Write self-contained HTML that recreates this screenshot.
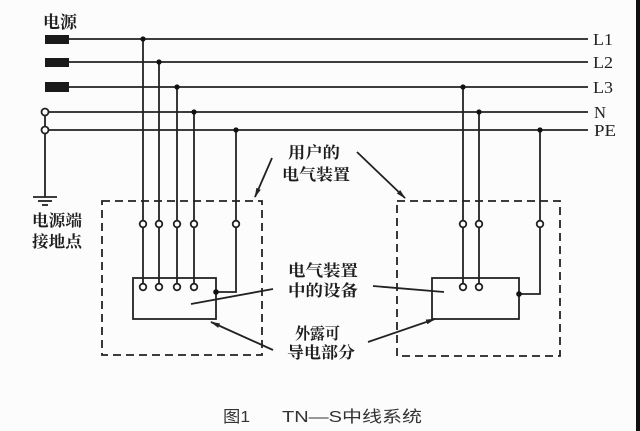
<!DOCTYPE html>
<html><head><meta charset="utf-8"><style>
html,body{margin:0;padding:0;background:#fcfcfc;}
svg{display:block;}
.cn{font-family:"Liberation Serif","Noto Serif CJK SC","Noto Sans CJK SC",serif;fill:#1e1e1e;font-weight:bold;}
.lb{font-family:"Liberation Serif",serif;fill:#222;}
.cap{font-family:"Liberation Sans","Noto Sans CJK SC",sans-serif;fill:#333;}
</style></head><body>
<svg width="640" height="431" viewBox="0 0 640 431" xmlns="http://www.w3.org/2000/svg">
<defs>
<marker id="ah" markerWidth="10" markerHeight="6" refX="9" refY="3" orient="auto" markerUnits="userSpaceOnUse">
<path d="M0,0.6 L10,3 L0,5.4 Z" fill="#222"/>
</marker>
</defs>
<rect x="0" y="0" width="640" height="431" fill="#fcfcfc"/>
<rect x="636" y="0" width="4" height="431" fill="#111"/>

<g stroke="#222" stroke-width="1.8" fill="none">
<line x1="69" y1="39" x2="588" y2="39"/>
<line x1="69" y1="62" x2="588" y2="62"/>
<line x1="69" y1="87" x2="588" y2="87"/>
<line x1="48" y1="112" x2="588" y2="112"/>
<line x1="48" y1="130" x2="588" y2="130"/>
<line x1="45" y1="115" x2="45" y2="127"/>
<line x1="45" y1="133" x2="45" y2="197"/>
<line x1="33" y1="197" x2="57" y2="197"/>
<line x1="38" y1="201" x2="52" y2="201"/>
<line x1="42" y1="205" x2="48" y2="205"/>
<line x1="143" y1="39" x2="143" y2="284"/>
<line x1="159" y1="62" x2="159" y2="284"/>
<line x1="177" y1="87" x2="177" y2="284"/>
<line x1="194" y1="112" x2="194" y2="284"/>
<polyline points="236,130 236,292 216,292"/>
<line x1="463" y1="87" x2="463" y2="284"/>
<line x1="479" y1="112" x2="479" y2="284"/>
<polyline points="540,130 540,294 519,294"/>
<rect x="133" y="278" width="83" height="41"/>
<rect x="432" y="278" width="87" height="41"/>
<rect x="102" y="201" width="160" height="154" stroke-dasharray="8,5"/>
<rect x="397" y="201" width="163" height="155" stroke-dasharray="8,5"/>
<line x1="273" y1="289" x2="191" y2="304"/>
<line x1="373" y1="286" x2="444" y2="292"/>
<line x1="272" y1="158" x2="255" y2="197" marker-end="url(#ah)"/>
<line x1="357" y1="152" x2="405" y2="198" marker-end="url(#ah)"/>
<line x1="273" y1="350" x2="211" y2="322" marker-end="url(#ah)"/>
<line x1="368" y1="342" x2="435" y2="319" marker-end="url(#ah)"/>
</g>

<g fill="#1a1a1a">
<rect x="45" y="35" width="24" height="9"/>
<rect x="45" y="58" width="24" height="9"/>
<rect x="45" y="82" width="24" height="10"/>
</g>

<g fill="#111">
<circle cx="143" cy="39" r="2.6"/>
<circle cx="159" cy="62" r="2.6"/>
<circle cx="177" cy="87" r="2.6"/>
<circle cx="194" cy="112" r="2.6"/>
<circle cx="236" cy="130" r="2.6"/>
<circle cx="463" cy="87" r="2.6"/>
<circle cx="479" cy="112" r="2.6"/>
<circle cx="540" cy="130" r="2.6"/>
<circle cx="216" cy="292" r="2.8"/>
<circle cx="519" cy="294" r="2.8"/>
</g>

<g fill="#fff" stroke="#222" stroke-width="1.8">
<circle cx="45" cy="112" r="3.5"/>
<circle cx="45" cy="130" r="3.5"/>
<circle cx="143" cy="224" r="3.3"/>
<circle cx="159" cy="224" r="3.3"/>
<circle cx="177" cy="224" r="3.3"/>
<circle cx="194" cy="224" r="3.3"/>
<circle cx="236" cy="224" r="3.3"/>
<circle cx="143" cy="287" r="3.3"/>
<circle cx="159" cy="287" r="3.3"/>
<circle cx="177" cy="287" r="3.3"/>
<circle cx="194" cy="287" r="3.3"/>
<circle cx="463" cy="224" r="3.3"/>
<circle cx="479" cy="224" r="3.3"/>
<circle cx="540" cy="224" r="3.3"/>
<circle cx="463" cy="287" r="3.3"/>
<circle cx="479" cy="287" r="3.3"/>
</g>

<text class="cn" x="43" y="28" font-size="17" textLength="34" lengthAdjust="spacingAndGlyphs">电源</text>
<g class="lb" font-size="17">
<text x="593" y="45" textLength="20" lengthAdjust="spacingAndGlyphs">L1</text>
<text x="593" y="68" textLength="20" lengthAdjust="spacingAndGlyphs">L2</text>
<text x="593" y="93" textLength="20" lengthAdjust="spacingAndGlyphs">L3</text>
<text x="594" y="118" textLength="12" lengthAdjust="spacingAndGlyphs">N</text>
<text x="594" y="136" textLength="22" lengthAdjust="spacingAndGlyphs">PE</text>
</g>
<g class="cn" font-size="16">
<text x="32" y="226" textLength="50" lengthAdjust="spacingAndGlyphs">电源端</text>
<text x="32" y="247" textLength="50" lengthAdjust="spacingAndGlyphs">接地点</text>
<text x="288" y="158" textLength="52" lengthAdjust="spacingAndGlyphs">用户的</text>
<text x="282" y="180" textLength="68" lengthAdjust="spacingAndGlyphs">电气装置</text>
<text x="288" y="276" textLength="70" lengthAdjust="spacingAndGlyphs">电气装置</text>
<text x="288" y="296" textLength="70" lengthAdjust="spacingAndGlyphs">中的设备</text>
<text x="295" y="339" textLength="45" lengthAdjust="spacingAndGlyphs">外露可</text>
<text x="287" y="358" textLength="68" lengthAdjust="spacingAndGlyphs">导电部分</text>
</g>
<g class="cap" font-size="16">
<text x="223" y="422" textLength="27" lengthAdjust="spacingAndGlyphs">图1</text>
<text x="282" y="422" textLength="140" lengthAdjust="spacingAndGlyphs">TN—S中线系统</text>
</g>
</svg>
</body></html>
